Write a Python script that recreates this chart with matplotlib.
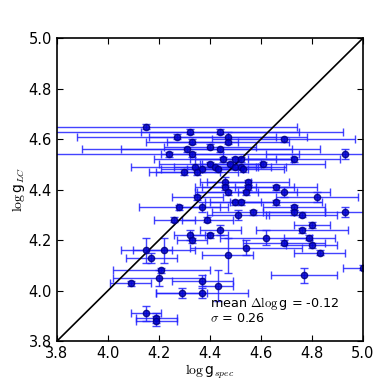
import numpy as np
import matplotlib
matplotlib.use("Agg")
import matplotlib.pyplot as plt

plt.rcParams.update({
    "mathtext.fontset": "cm",
    "font.family": "DejaVu Sans",
    "font.size": 11,
    "xtick.direction": "in",
    "ytick.direction": "in",
    "xtick.top": True,
    "ytick.right": True,
})

# ── data ──────────────────────────────────────────────────────────────────
logg_spec = [4.15, 4.32, 4.44, 4.27, 4.47, 4.69, 4.33, 4.47, 4.40, 4.44,
             4.31, 4.93, 4.24, 4.33, 4.45, 4.50, 4.52, 4.73, 4.40, 4.48,
             4.61, 4.34, 4.42, 4.50, 4.52, 4.37, 4.43, 4.53, 4.30, 4.35,
             4.46, 4.55, 4.46, 4.55, 4.66, 4.47, 4.54, 4.69, 4.35, 4.82,
             4.50, 4.52, 4.66, 4.28, 4.37, 4.73, 4.73, 4.57, 4.93, 4.76,
             4.51, 4.26, 4.39, 4.80, 4.44, 4.76, 4.32, 4.40, 4.62, 4.79,
             4.33, 4.69, 4.80, 4.54, 4.15, 4.22, 4.83, 4.47, 4.17, 5.00,
             4.21, 4.77, 4.20, 4.37, 4.09, 4.43, 4.29, 4.37, 4.15, 4.19,
             4.19]
logg_lc = [4.65, 4.63, 4.63, 4.61, 4.61, 4.60, 4.59, 4.59, 4.57, 4.56,
           4.56, 4.54, 4.54, 4.54, 4.52, 4.52, 4.52, 4.52, 4.50, 4.50,
           4.50, 4.49, 4.49, 4.49, 4.49, 4.48, 4.48, 4.48, 4.47, 4.47,
           4.43, 4.43, 4.41, 4.41, 4.41, 4.39, 4.39, 4.39, 4.37, 4.37,
           4.35, 4.35, 4.35, 4.33, 4.33, 4.33, 4.31, 4.31, 4.31, 4.30,
           4.30, 4.28, 4.28, 4.26, 4.24, 4.24, 4.22, 4.22, 4.21, 4.21,
           4.20, 4.19, 4.18, 4.17, 4.16, 4.16, 4.15, 4.14, 4.13, 4.09,
           4.08, 4.06, 4.05, 4.04, 4.03, 4.02, 3.99, 3.99, 3.91, 3.89,
           3.88]
xerr = [0.59, 0.60, 0.31, 0.39, 0.31, 0.28, 0.18, 0.24, 0.18, 0.39,
        0.41, 0.31, 0.51, 0.12, 0.27, 0.16, 0.20, 0.18, 0.20, 0.12,
        0.24, 0.25, 0.16, 0.14, 0.18, 0.16, 0.12, 0.16, 0.14, 0.16,
        0.10, 0.16, 0.12, 0.18, 0.16, 0.12, 0.20, 0.18, 0.10, 0.16,
        0.10, 0.14, 0.18, 0.16, 0.10, 0.12, 0.12, 0.16, 0.08, 0.14,
        0.12, 0.08, 0.10, 0.07, 0.08, 0.18, 0.06, 0.07, 0.18, 0.10,
        0.06, 0.16, 0.10, 0.22, 0.10, 0.12, 0.10, 0.10, 0.10, 0.08,
        0.19, 0.13, 0.18, 0.12, 0.08, 0.06, 0.10, 0.18, 0.06, 0.08,
        0.08]
yerr = [0.01, 0.01, 0.01, 0.01, 0.02, 0.01, 0.01, 0.01, 0.01, 0.01,
        0.01, 0.02, 0.01, 0.01, 0.01, 0.01, 0.01, 0.01, 0.01, 0.01,
        0.01, 0.01, 0.01, 0.01, 0.01, 0.01, 0.01, 0.01, 0.01, 0.01,
        0.02, 0.01, 0.01, 0.01, 0.01, 0.01, 0.01, 0.02, 0.01, 0.02,
        0.01, 0.01, 0.01, 0.01, 0.02, 0.01, 0.01, 0.01, 0.02, 0.01,
        0.02, 0.01, 0.01, 0.01, 0.02, 0.01, 0.02, 0.01, 0.03, 0.01,
        0.01, 0.01, 0.01, 0.03, 0.05, 0.05, 0.01, 0.07, 0.02, 0.01,
        0.01, 0.03, 0.03, 0.02, 0.01, 0.06, 0.02, 0.02, 0.03, 0.02,
        0.02]

mean_diff = -0.12
sigma = 0.26
lims = [3.8, 5.0]
ticks = [3.8, 4.0, 4.2, 4.4, 4.6, 4.8, 5.0]

fig = plt.figure(figsize=(3.82, 3.82), dpi=100, facecolor="white")
ax = fig.add_axes([0.149, 0.107, 0.801, 0.793])

ax.errorbar(logg_spec, logg_lc, xerr=xerr, yerr=yerr, fmt="o",
            color="#0000cc", ecolor="#2222ff", elinewidth=1.0, capsize=3,
            markersize=4.5, markeredgecolor="#000080", alpha=0.85)
ax.plot(lims, lims, color="black", linewidth=1.2)

ax.text(4.4, 3.935, r"mean $\Delta\log$g = %.2f" % mean_diff, fontsize=9.2)
ax.text(4.4, 3.875, r"$\sigma$ = %.2f" % sigma, fontsize=9.2)

ax.set_xlim(lims)
ax.set_ylim(lims)
ax.set_xticks(ticks)
ax.set_yticks(ticks)
ax.tick_params(labelsize=10.5, length=4, width=0.8)
ax.set_xlabel(r"$\log$g$_{spec}$", fontsize=10, labelpad=1)
ax.set_ylabel(r"$\log$g$_{LC}$", fontsize=10, labelpad=1)
for spine in ax.spines.values():
    spine.set_linewidth(1.2)

plt.savefig("out.png", dpi=100, facecolor="white")
plt.close()
